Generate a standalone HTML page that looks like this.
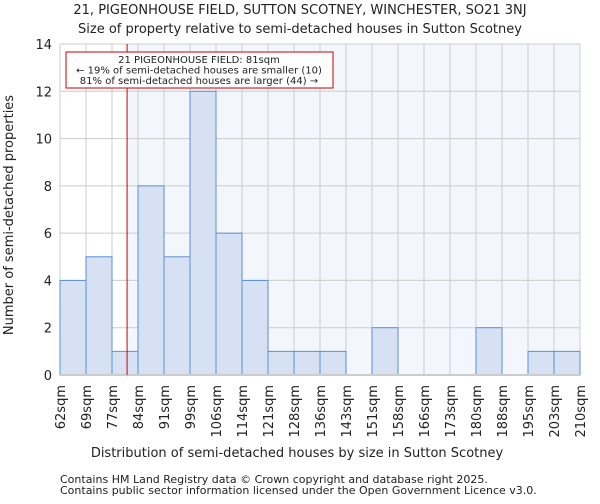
<!DOCTYPE html>
<html><head><meta charset="utf-8"><style>
body{margin:0;background:#fff;font-family:"DejaVu Sans","Liberation Sans",sans-serif;}
svg text{font-family:"DejaVu Sans","Liberation Sans",sans-serif;fill:#222;}
</style></head><body>
<svg id="c" width="600" height="500">
<text x="300" y="14" font-size="13" text-anchor="middle">21, PIGEONHOUSE FIELD, SUTTON SCOTNEY, WINCHESTER, SO21 3NJ</text>
<text x="300" y="33" font-size="13" text-anchor="middle">Size of property relative to semi-detached houses in Sutton Scotney</text>
<g id="plot"></g>
<text x="297" y="457" font-size="13" text-anchor="middle">Distribution of semi-detached houses by size in Sutton Scotney</text>
<text transform="translate(13,215) rotate(-90)" font-size="13" text-anchor="middle">Number of semi-detached properties</text>
<text x="60" y="483" font-size="11">Contains HM Land Registry data © Crown copyright and database right 2025.</text>
<text x="60" y="494" font-size="11">Contains public sector information licensed under the Open Government Licence v3.0.</text>
</svg>
<script>
const labels=["62sqm","69sqm","77sqm","84sqm","91sqm","99sqm","106sqm","114sqm","121sqm","128sqm","136sqm","143sqm","151sqm","158sqm","166sqm","173sqm","180sqm","188sqm","195sqm","203sqm","210sqm"];
const counts=[4,5,1,8,5,12,6,4,1,1,1,0,2,0,0,0,2,0,1,1];
const yTicks=[0,2,4,6,8,10,12,14];
const propertyBin=2.58;
const L=60,R=580,T=44,B=375,yMax=14;
const bw=(R-L)/counts.length;
const xs=i=>L+i*bw, ys=v=>B-v/yMax*(B-T);
const g=document.getElementById('plot');const NS="http://www.w3.org/2000/svg";
function mk(t,a,p){const e=document.createElementNS(NS,t);for(const k in a)e.setAttribute(k,a[k]);(p||g).appendChild(e);return e;}
const px=xs(propertyBin);
let e=mk('rect',{x:L,y:T,width:R-L,height:B-T,fill:'#fff'});


e=mk('rect',{x:px,y:T,width:R-px,height:B-T,fill:'#f3f6fd'});


yTicks.forEach(v=>{
 e=mk('line',{x1:L,x2:R,y1:ys(v),y2:ys(v),stroke:'#ccc'});
 
 
 e=mk('text',{x:L-8,y:ys(v)+5,'font-size':13,'text-anchor':'end'});e.textContent=v;
 
 
});
labels.forEach((l,i)=>{
 e=mk('line',{x1:xs(i),x2:xs(i),y1:T,y2:B,stroke:'#ccc'});
 
 
 e=mk('text',{transform:`translate(${xs(i)+5},${B+10}) rotate(-90)`,'font-size':13,'text-anchor':'end'});e.textContent=l;
 
 
});
counts.forEach((v,i)=>{
 if(v<=0)return;
 e=mk('rect',{x:xs(i),y:ys(v),width:bw,height:B-ys(v),fill:'#d6e2f4',stroke:'#5b8fd6','stroke-width':1});
 
 
});
e=mk('line',{x1:L,x2:R,y1:B,y2:B,stroke:'#ccc','stroke-width':2});


e=mk('line',{x1:px,x2:px,y1:T,y2:B,stroke:'#c00','stroke-width':1});


e=mk('rect',{x:66,y:52,width:267,height:36,fill:'#fff',stroke:'#c00','stroke-width':1});


["21 PIGEONHOUSE FIELD: 81sqm","← 19% of semi-detached houses are smaller (10)","81% of semi-detached houses are larger (44) →"].forEach((t,i)=>{
 e=mk('text',{x:199,y:63+i*10.5,'font-size':10,'text-anchor':'middle'});e.textContent=t;
 
 
});
</script>
</body></html>
